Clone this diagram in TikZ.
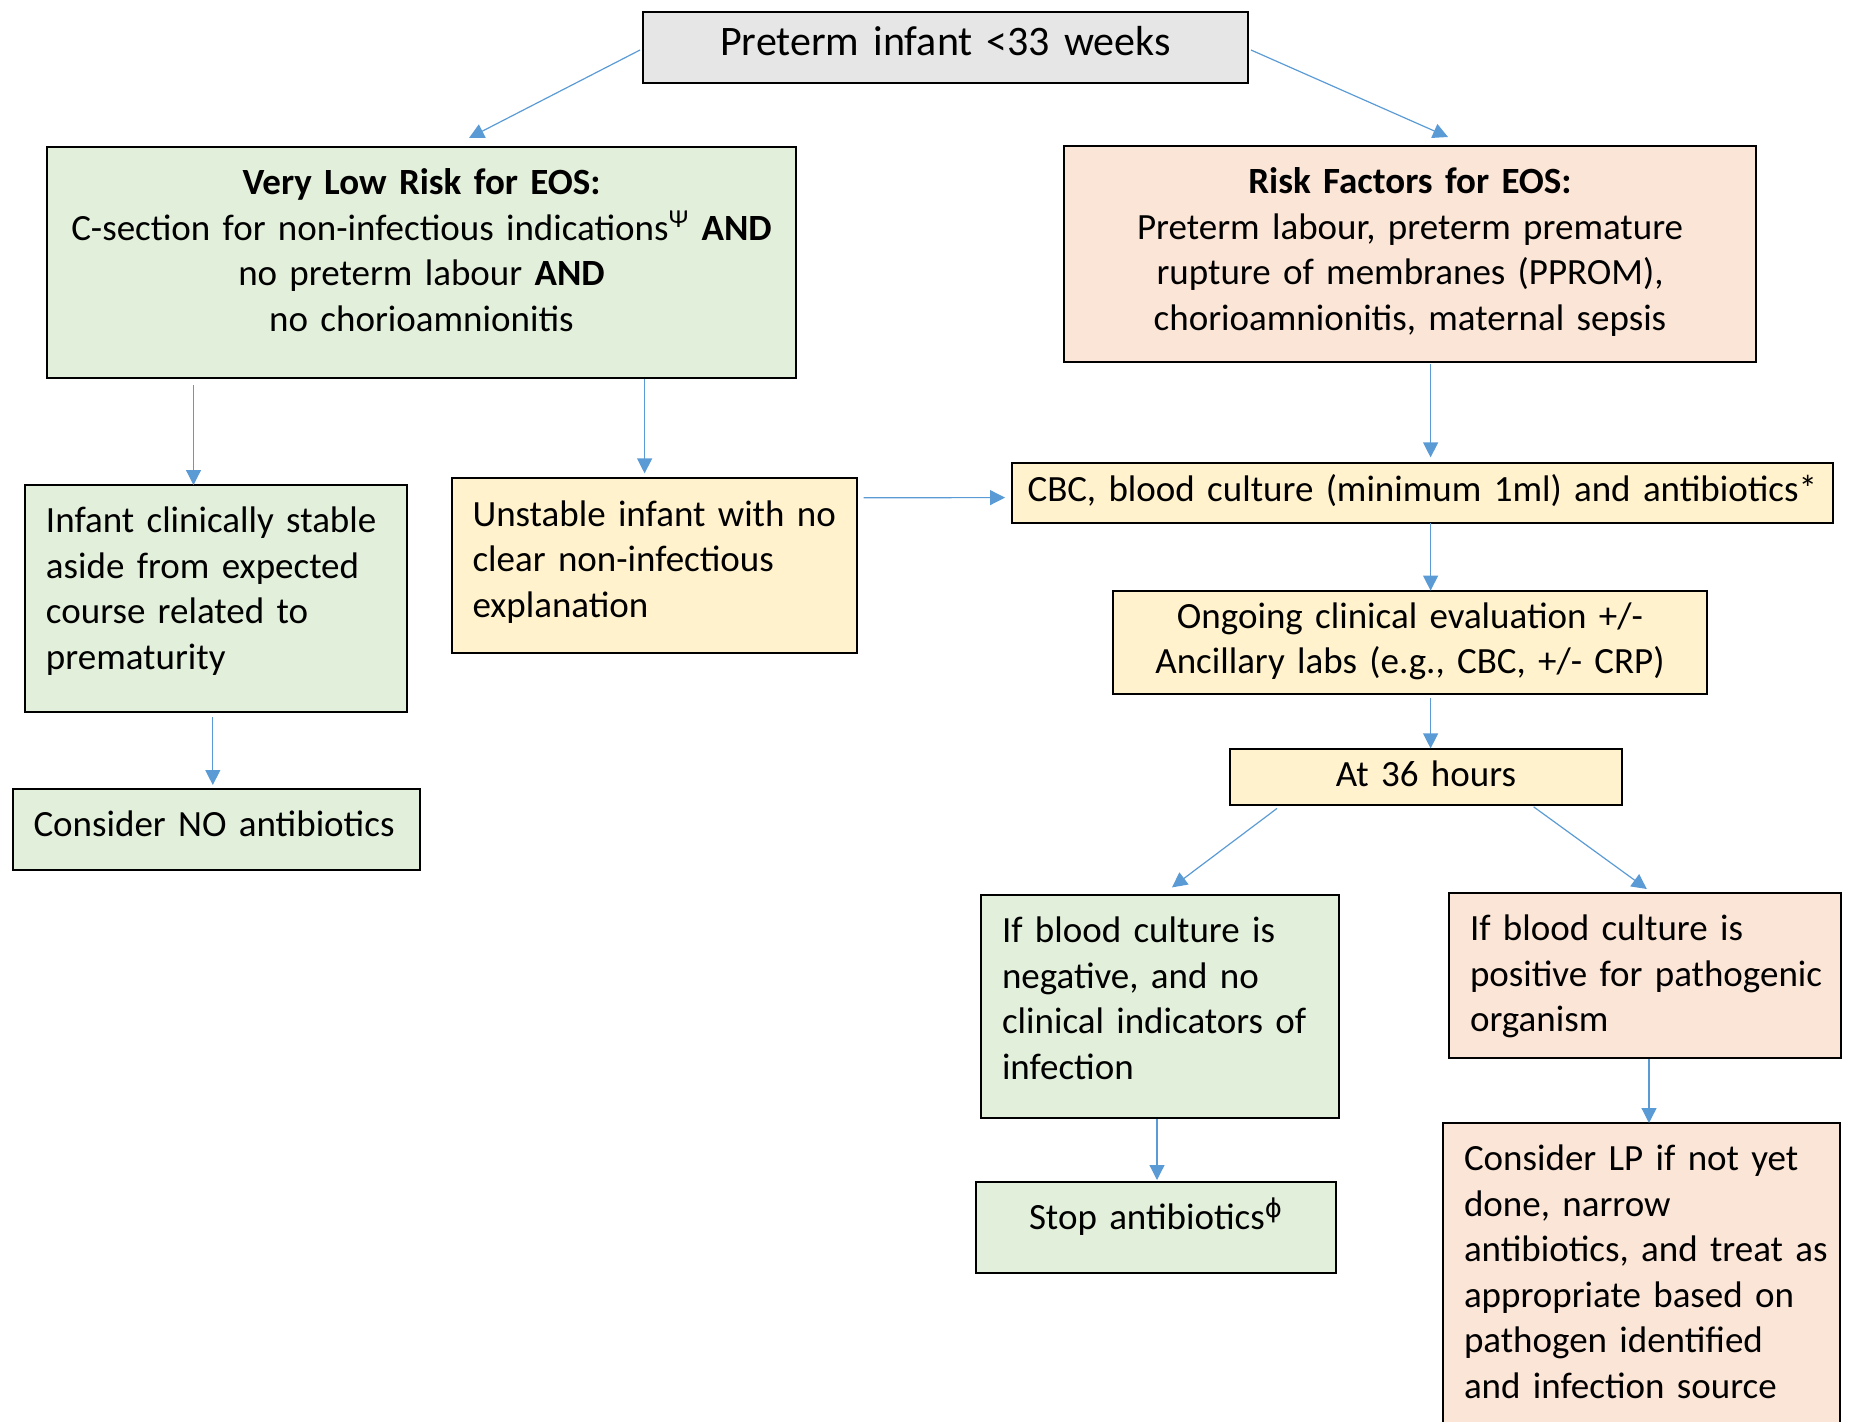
\documentclass[tikz,border=0pt]{standalone}
\usepackage{fontspec}
\setmainfont{Carlito}
\newfontfamily\EOSSymbolFont{DejaVu Sans}
\usetikzlibrary{positioning,arrows.meta}
\definecolor{EOSGrey}{HTML}{E7E6E6}
\definecolor{EOSGreen}{HTML}{E2EFDA}
\definecolor{EOSPeach}{HTML}{FBE5D6}
\definecolor{EOSYellow}{HTML}{FFF2CC}
\definecolor{EOSArrow}{HTML}{5B9BD5}
\newcommand{\EOSFlowFont}{\fontsize{18.5}{22.75}\selectfont}
\newcommand{\EOSLeft}[1]{\leftskip=10.5pt\relax#1\par}

\begin{document}
\begin{tikzpicture}[
		flowbox/.style={draw=black, line width=1pt, inner ysep=0pt, outer sep=0pt, font=\EOSFlowFont},
		leftbox/.style={flowbox, inner xsep=0pt, align=left, text height=23.8pt},
		midbox/.style={flowbox, inner xsep=2pt, align=center, text height=23.8pt},
		flowarrow/.style={draw=EOSArrow, line width=0.6pt, -{Triangle[length=7.5pt,width=7.5pt]}},
	]
	\useasboundingbox (0,0) rectangle (924.5pt,-710.5pt);
	\node[midbox, fill=EOSGrey, text width=298.5pt, text height=21.6pt, text depth=13.7pt, font=\fontsize{21}{25}\selectfont] (top) at (472.75pt,-23.85pt) {Preterm infant <33 weeks};
	\node[midbox, fill=EOSGreen, text width=370.5pt, text depth=91.7pt, below=32pt of top, xshift=-262pt] (vlr) {\textbf{Very Low Risk for EOS:}\\C-section for non-infectious indications\textsuperscript{Ψ} \textbf{AND}\\no preterm labour \textbf{AND}\\no chorioamnionitis};
	\node[midbox, fill=EOSPeach, text width=342pt, text depth=84.2pt, below=31.5pt of top, xshift=232.25pt] (rf) {\textbf{Risk Factors for EOS:}\\Preterm labour, preterm premature\\rupture of membranes (PPROM),\\chorioamnionitis, maternal sepsis};
	\node[leftbox, fill=EOSGreen, text width=191pt, text depth=89.5pt, below=53.5pt of vlr, xshift=-102.75pt] (stable) {\EOSLeft{Infant clinically stable\\aside from expected\\course related to\\prematurity}};
	\node[leftbox, fill=EOSGreen, text width=203.5pt, text depth=16.7pt, below=38.7pt of stable] (noab) {\EOSLeft{Consider NO antibiotics}};
	\node[leftbox, fill=EOSYellow, text width=202.5pt, text depth=63.5pt, below=50.2pt of vlr, xshift=116.25pt] (unstable) {\EOSLeft{Unstable infant with no\\clear non-infectious\\explanation}};
	\node[midbox, fill=EOSYellow, text width=406.6pt, text height=18.8pt, text depth=10.8pt, below=50.7pt of rf, xshift=6.2pt] (cbc) {CBC, blood culture (minimum 1ml) and antibiotics*};
	\node[midbox, fill=EOSYellow, text width=293pt, text height=18.8pt, text depth=32.9pt, below=34pt of cbc, xshift=-6.2pt] (ongoing) {Ongoing clinical evaluation +/-\\Ancillary labs (e.g., CBC, +/- CRP)};
	\node[midbox, fill=EOSYellow, text width=192pt, text height=18.8pt, text depth=9.1pt, below=27.6pt of ongoing, xshift=8pt] (hours) {At 36 hours};
	\node[leftbox, fill=EOSGreen, text width=178.8pt, text depth=87.7pt, below=45pt of hours, xshift=-133.1pt] (negative) {\EOSLeft{If blood culture is\\negative, and no\\clinical indicators of\\infection}};
	\node[leftbox, fill=EOSPeach, text width=196pt, text depth=58.7pt, below=44pt of hours, xshift=109.5pt] (positive) {\EOSLeft{If blood culture is\\positive for pathogenic\\organism}};
	\node[midbox, fill=EOSGreen, text width=176pt, text depth=21.7pt, below=32pt of negative, xshift=-1.9pt] (stop) {Stop antibiotics\textsuperscript{\EOSSymbolFont ϕ}};
	\node[leftbox, fill=EOSPeach, text width=198.5pt, text depth=136.2pt, below=32.5pt of positive, xshift=-1.75pt] (lp) {\EOSLeft{Consider LP if not yet\\done, narrow\\antibiotics, and treat as\\appropriate based on\\pathogen identified\\and infection source}};
	\draw[flowarrow] ([xshift=-1.5pt,yshift=-1.15pt]top.west) -- ([xshift=23.75pt,yshift=4.5pt]vlr.north);
	\draw[flowarrow] ([xshift=1.5pt,yshift=-1.15pt]top.east) -- ([xshift=19pt,yshift=4.5pt]rf.north);
	\draw[flowarrow] ([xshift=-114pt,yshift=-3.5pt]vlr.south) -- ([xshift=-11.25pt]stable.north);
	\draw[flowarrow] ([xshift=111.55pt,yshift=-0.4pt]vlr.south) -- ([xshift=-4.7pt,yshift=2.5pt]unstable.north);
	\draw[flowarrow] ([xshift=10.3pt,yshift=-1pt]rf.south) -- ([xshift=4.1pt,yshift=3pt]cbc.north);
	\draw[flowarrow] ([xshift=3.5pt,yshift=34pt]unstable.east) -- ([xshift=-3.4pt,yshift=-2.3pt]cbc.west);
	\draw[flowarrow] ([xshift=4.1pt,yshift=-0.4pt]cbc.south) -- ([xshift=10.3pt]ongoing.north);
	\draw[flowarrow] ([xshift=10.3pt,yshift=-2.2pt]ongoing.south) -- ([xshift=2.3pt,yshift=0.4pt]hours.north);
	\draw[flowarrow] ([xshift=-74.5pt,yshift=-1.7pt]hours.south) -- ([xshift=6.1pt,yshift=3.8pt]negative.north);
	\draw[flowarrow] ([xshift=53.8pt,yshift=-0.9pt]hours.south) -- ([xshift=0.9pt,yshift=2pt]positive.north);
	\draw[flowarrow] ([xshift=-1.6pt,yshift=-2.7pt]stable.south) -- ([xshift=-1.6pt,yshift=2pt]noab.north);
	\draw[flowarrow] ([xshift=-1.4pt,yshift=-0.5pt]negative.south) -- ([xshift=0.5pt,yshift=1pt]stop.north);
	\draw[flowarrow] ([xshift=2pt,yshift=-0.5pt]positive.south) -- ([xshift=3.75pt]lp.north);
\end{tikzpicture}
\end{document}
